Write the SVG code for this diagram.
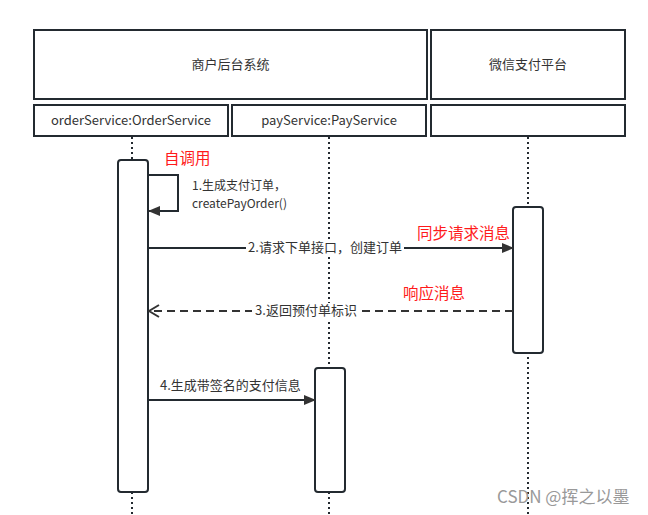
<svg xmlns="http://www.w3.org/2000/svg" width="648" height="515" viewBox="0 0 648 515">
<style>
.box{fill:#fff;stroke:#232a30;stroke-width:2}
.act{fill:#fff;stroke:#232a30;stroke-width:2}
.life{stroke:#232a30;stroke-width:2;stroke-dasharray:2 3;fill:none}
.msg{stroke:#232a30;stroke-width:2;fill:none}
.dash{stroke:#333;stroke-width:2;stroke-dasharray:8 5;fill:none}
text{font-family:"Microsoft YaHei","Noto Sans CJK SC","Noto Sans",sans-serif;font-size:13px;fill:#333}
.sm{font-size:12px}
.red{fill:#ff1a1a;font-size:15.5px}
.wm{fill:#999;font-size:17px}
</style>
<defs>
<marker id="fill" markerWidth="12" markerHeight="10" refX="11" refY="5" orient="auto" markerUnits="userSpaceOnUse"><path d="M0,0 L12,5 L0,10 Z" fill="#333"/></marker>
<marker id="open" markerWidth="12" markerHeight="14" refX="11" refY="7" orient="auto" markerUnits="userSpaceOnUse"><path d="M1,1 L11,7 L1,13" fill="none" stroke="#333" stroke-width="2"/></marker>
</defs>
<rect width="648" height="515" fill="#fff"/>
<g id="lifelines">
<line class="life" x1="132" y1="137" x2="132" y2="515"/>
<line class="life" x1="329" y1="137" x2="329" y2="515"/>
<line class="life" x1="528" y1="137" x2="528" y2="515"/>
</g>
<g id="header-merchant"><rect class="box" x="34" y="30" width="393" height="69"/><text x="230.5" y="69" text-anchor="middle">商户后台系统</text></g>
<g id="header-wechat"><rect class="box" x="431" y="30" width="194" height="69"/><text x="528" y="69" text-anchor="middle">微信支付平台</text></g>
<g id="orderService"><rect class="box" x="34" y="105" width="194" height="31"/><text x="131" y="125" text-anchor="middle">orderService:OrderService</text></g>
<g id="payService"><rect class="box" x="232" y="105" width="194" height="31"/><text x="329" y="125" text-anchor="middle">payService:PayService</text></g>
<g id="wechat"><rect class="box" x="431" y="105" width="194" height="31"/></g>
<g id="act-order"><rect class="act" x="118" y="160" width="30" height="332" rx="3"/></g>
<g id="act-wechat"><rect class="act" x="513" y="207" width="30" height="146" rx="3"/></g>
<g id="act-pay"><rect class="act" x="315" y="368" width="30" height="124" rx="3"/></g>
<g id="connectors">
<path class="msg" d="M148,175 H178 V211 H149" marker-end="url(#fill)"/>
<line class="msg" x1="148" y1="248" x2="513" y2="248" marker-end="url(#fill)"/>
<line class="dash" x1="513" y1="311" x2="149" y2="311" marker-end="url(#open)"/>
<line class="msg" x1="148" y1="400" x2="315" y2="400" marker-end="url(#fill)"/>
</g>
<g id="labels">
<text class="red" x="164" y="164">自调用</text>
<text class="sm" x="192" y="190">1.生成支付订单，</text>
<text class="sm" x="192" y="208">createPayOrder()</text>
<rect x="246" y="240" width="158" height="16" fill="#fff"/>
<text x="325" y="252" text-anchor="middle">2.请求下单接口，创建订单</text>
<text class="red" x="417" y="239">同步请求消息</text>
<text class="red" x="403" y="299">响应消息</text>
<rect x="252" y="303" width="108" height="16" fill="#fff"/>
<text x="306" y="315" text-anchor="middle">3.返回预付单标识</text>
<text x="160" y="390">4.生成带签名的支付信息</text>
<text class="wm" x="497" y="503">CSDN @挥之以墨</text>
</g>
</svg>
